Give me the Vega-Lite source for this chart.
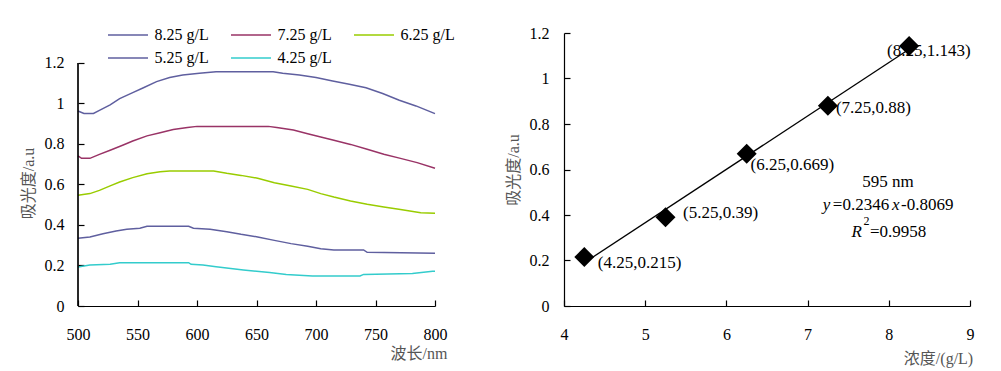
{
  "$schema": "https://vega.github.io/schema/vega-lite/v6.json",
  "padding": {"left": 20, "top": 24, "right": 5, "bottom": 5},
  "background": "white",
  "spacing": 58,
  "config": {
    "view": {"stroke": null},
    "axis": {
      "grid": false,
      "domainColor": "black",
      "domainWidth": 1.2,
      "tickColor": "black",
      "tickWidth": 1.2,
      "tickSize": -6,
      "labelFlush": false,
      "labelColor": "black",
      "labelFont": "Liberation Serif",
      "labelFontSize": 16,
      "titleFont": "Liberation Serif, Noto Sans CJK SC",
      "titleFontSize": 16,
      "titleFontWeight": "normal",
      "titleColor": "#555555"
    },
    "text": {"font": "Liberation Serif", "fontSize": 17, "color": "black"}
  },
  "datasets": {
    "spectra": [
      {"c":"8.25 g/L","wl":500,"a":0.963},{"c":"8.25 g/L","wl":505,"a":0.951},{"c":"8.25 g/L","wl":513,"a":0.951},{"c":"8.25 g/L","wl":518,"a":0.966},{"c":"8.25 g/L","wl":527,"a":0.993},{"c":"8.25 g/L","wl":535,"a":1.024},{"c":"8.25 g/L","wl":546,"a":1.054},{"c":"8.25 g/L","wl":555,"a":1.078},{"c":"8.25 g/L","wl":566,"a":1.108},{"c":"8.25 g/L","wl":577,"a":1.128},{"c":"8.25 g/L","wl":588,"a":1.141},{"c":"8.25 g/L","wl":602,"a":1.149},{"c":"8.25 g/L","wl":616,"a":1.157},{"c":"8.25 g/L","wl":664,"a":1.157},{"c":"8.25 g/L","wl":672,"a":1.149},{"c":"8.25 g/L","wl":686,"a":1.141},{"c":"8.25 g/L","wl":700,"a":1.128},{"c":"8.25 g/L","wl":714,"a":1.111},{"c":"8.25 g/L","wl":728,"a":1.095},{"c":"8.25 g/L","wl":742,"a":1.078},{"c":"8.25 g/L","wl":756,"a":1.049},{"c":"8.25 g/L","wl":770,"a":1.016},{"c":"8.25 g/L","wl":784,"a":0.988},{"c":"8.25 g/L","wl":800,"a":0.950},
      {"c":"7.25 g/L","wl":500,"a":0.741},{"c":"7.25 g/L","wl":503,"a":0.729},{"c":"7.25 g/L","wl":510,"a":0.729},{"c":"7.25 g/L","wl":518,"a":0.749},{"c":"7.25 g/L","wl":527,"a":0.769},{"c":"7.25 g/L","wl":538,"a":0.795},{"c":"7.25 g/L","wl":546,"a":0.815},{"c":"7.25 g/L","wl":558,"a":0.840},{"c":"7.25 g/L","wl":569,"a":0.856},{"c":"7.25 g/L","wl":580,"a":0.872},{"c":"7.25 g/L","wl":592,"a":0.881},{"c":"7.25 g/L","wl":600,"a":0.887},{"c":"7.25 g/L","wl":660,"a":0.887},{"c":"7.25 g/L","wl":667,"a":0.881},{"c":"7.25 g/L","wl":681,"a":0.869},{"c":"7.25 g/L","wl":693,"a":0.851},{"c":"7.25 g/L","wl":704,"a":0.835},{"c":"7.25 g/L","wl":715,"a":0.818},{"c":"7.25 g/L","wl":729,"a":0.798},{"c":"7.25 g/L","wl":743,"a":0.774},{"c":"7.25 g/L","wl":757,"a":0.749},{"c":"7.25 g/L","wl":771,"a":0.729},{"c":"7.25 g/L","wl":785,"a":0.708},{"c":"7.25 g/L","wl":800,"a":0.680},
      {"c":"6.25 g/L","wl":500,"a":0.547},{"c":"6.25 g/L","wl":510,"a":0.555},{"c":"6.25 g/L","wl":518,"a":0.571},{"c":"6.25 g/L","wl":527,"a":0.593},{"c":"6.25 g/L","wl":535,"a":0.612},{"c":"6.25 g/L","wl":546,"a":0.634},{"c":"6.25 g/L","wl":558,"a":0.653},{"c":"6.25 g/L","wl":569,"a":0.663},{"c":"6.25 g/L","wl":577,"a":0.667},{"c":"6.25 g/L","wl":614,"a":0.667},{"c":"6.25 g/L","wl":625,"a":0.655},{"c":"6.25 g/L","wl":637,"a":0.645},{"c":"6.25 g/L","wl":651,"a":0.631},{"c":"6.25 g/L","wl":665,"a":0.609},{"c":"6.25 g/L","wl":679,"a":0.593},{"c":"6.25 g/L","wl":693,"a":0.576},{"c":"6.25 g/L","wl":704,"a":0.555},{"c":"6.25 g/L","wl":715,"a":0.538},{"c":"6.25 g/L","wl":729,"a":0.519},{"c":"6.25 g/L","wl":743,"a":0.502},{"c":"6.25 g/L","wl":757,"a":0.489},{"c":"6.25 g/L","wl":771,"a":0.476},{"c":"6.25 g/L","wl":788,"a":0.461},{"c":"6.25 g/L","wl":800,"a":0.458},
      {"c":"5.25 g/L","wl":500,"a":0.334},{"c":"5.25 g/L","wl":510,"a":0.341},{"c":"5.25 g/L","wl":521,"a":0.357},{"c":"5.25 g/L","wl":532,"a":0.370},{"c":"5.25 g/L","wl":541,"a":0.379},{"c":"5.25 g/L","wl":552,"a":0.384},{"c":"5.25 g/L","wl":558,"a":0.394},{"c":"5.25 g/L","wl":593,"a":0.394},{"c":"5.25 g/L","wl":597,"a":0.384},{"c":"5.25 g/L","wl":611,"a":0.379},{"c":"5.25 g/L","wl":625,"a":0.367},{"c":"5.25 g/L","wl":637,"a":0.354},{"c":"5.25 g/L","wl":651,"a":0.341},{"c":"5.25 g/L","wl":665,"a":0.324},{"c":"5.25 g/L","wl":679,"a":0.308},{"c":"5.25 g/L","wl":693,"a":0.295},{"c":"5.25 g/L","wl":704,"a":0.283},{"c":"5.25 g/L","wl":715,"a":0.277},{"c":"5.25 g/L","wl":740,"a":0.277},{"c":"5.25 g/L","wl":743,"a":0.265},{"c":"5.25 g/L","wl":800,"a":0.260},
      {"c":"4.25 g/L","wl":500,"a":0.193},{"c":"4.25 g/L","wl":510,"a":0.202},{"c":"4.25 g/L","wl":527,"a":0.206},{"c":"4.25 g/L","wl":535,"a":0.214},{"c":"4.25 g/L","wl":593,"a":0.214},{"c":"4.25 g/L","wl":595,"a":0.206},{"c":"4.25 g/L","wl":605,"a":0.202},{"c":"4.25 g/L","wl":616,"a":0.194},{"c":"4.25 g/L","wl":639,"a":0.178},{"c":"4.25 g/L","wl":661,"a":0.165},{"c":"4.25 g/L","wl":675,"a":0.156},{"c":"4.25 g/L","wl":697,"a":0.148},{"c":"4.25 g/L","wl":737,"a":0.148},{"c":"4.25 g/L","wl":740,"a":0.156},{"c":"4.25 g/L","wl":781,"a":0.160},{"c":"4.25 g/L","wl":798,"a":0.171},{"c":"4.25 g/L","wl":800,"a":0.171}
    ],
    "pts": [
      {"conc":4.25,"abs":0.215,"label":"(4.25,0.215)"},
      {"conc":5.25,"abs":0.39,"label":"(5.25,0.39)"},
      {"conc":6.25,"abs":0.669,"label":"(6.25,0.669)"},
      {"conc":7.25,"abs":0.88,"label":"(7.25,0.88)"},
      {"conc":8.25,"abs":1.143,"label":"(8.25,1.143)"}
    ],
    "fit": [
      {"conc":4.25,"abs":0.1902},
      {"conc":8.25,"abs":1.1286}
    ],
    "notes": [
      {"t":"595 nm"},{"t":"y"},{"t":"=0.2346"},{"t":"x"},{"t":"-0.8069"},{"t":"R"},{"t":"2"},{"t":"=0.9958"}
    ]
  },
  "hconcat": [
    {
      "width": 357,
      "height": 273,
      "layer": [
        {
          "data": {"name": "spectra"},
          "mark": {"type": "line", "strokeWidth": 1.5},
          "encoding": {
            "x": {"field": "wl", "type": "quantitative",
                  "scale": {"domain": [500, 800], "nice": false},
                  "axis": {"values": [500,550,600,650,700,750,800], "labelPadding": 26, "title": "波长/nm",
                           "titleX": 369, "titleY": 47, "titleAlign": "right", "titleBaseline": "middle", "titleAnchor": null}},
            "y": {"field": "a", "type": "quantitative",
                  "scale": {"domain": [0, 1.3481], "nice": false, "zero": false},
                  "axis": {"values": [0,0.2,0.4,0.6,0.8,1,1.2], "format": "~g", "labelPadding": 20, "domain": false, "title": "吸光度/a.u",
                           "titleX": -50, "titleY": 150, "titleAlign": "center", "titleBaseline": "middle", "titleAngle": -90}},
            "color": {"field": "c", "type": "nominal",
                      "scale": {"domain": ["8.25 g/L","7.25 g/L","6.25 g/L","5.25 g/L","4.25 g/L"],
                                "range": ["#5f5f9f","#993366","#99cc00","#5f5f9f","#33cccc"]},
                      "legend": {"orient": "none", "legendX": 19, "legendY": -9, "columns": 3, "direction": "horizontal", "title": null,
                                 "symbolType": "M0,0H4", "symbolSize": 400, "symbolStrokeWidth": 1.5,
                                 "labelFont": "Liberation Serif", "labelFontSize": 16, "labelColor": "black",
                                 "labelOffset": 35.5, "columnPadding": 11, "rowPadding": 4, "padding": 0}}
          }
        },
        {
          "data": {"name": "fit"},
          "mark": {"type": "rule", "color": "black", "strokeWidth": 1.2},
          "encoding": {"x": {"datum": 500}, "y": {"datum": 0}, "y2": {"datum": 1.2}}
        }
      ]
    },
    {
      "width": 406,
      "height": 273,
      "layer": [
        {"data": {"name": "fit"}, "mark": {"type": "line", "color": "black", "strokeWidth": 1.3},
         "encoding": {
           "x": {"field": "conc", "type": "quantitative",
                 "scale": {"domain": [4, 9], "nice": false},
                 "axis": {"values": [4,5,6,7,8,9], "format": "~g", "labelPadding": 26, "title": "浓度/(g/L)",
                          "titleX": 408.7, "titleY": 52, "titleAlign": "right", "titleBaseline": "middle", "titleAnchor": null}},
           "y": {"field": "abs", "type": "quantitative",
                 "scale": {"domain": [0, 1.2], "nice": false},
                 "axis": {"values": [0,0.2,0.4,0.6,0.8,1,1.2], "format": "~g", "labelPadding": 21, "title": "吸光度/a.u",
                          "titleX": -51, "titleY": 136.5, "titleAlign": "center", "titleBaseline": "middle", "titleAngle": -90}}
         }},
        {"data": {"name": "pts"}, "transform": [{"filter": "datum.conc == 4.25"}],
         "mark": {"type": "text", "align": "left", "baseline": "middle", "dx": 13.5, "dy": 5.6},
         "encoding": {"x": {"field": "conc", "type": "quantitative", "title": "浓度/(g/L)"}, "y": {"field": "abs", "type": "quantitative", "title": "吸光度/a.u"}, "text": {"field": "label"}}},
        {"data": {"name": "pts"}, "transform": [{"filter": "datum.conc == 5.25"}],
         "mark": {"type": "text", "align": "left", "baseline": "middle", "dx": 17.6, "dy": -4},
         "encoding": {"x": {"field": "conc", "type": "quantitative", "title": "浓度/(g/L)"}, "y": {"field": "abs", "type": "quantitative", "title": "吸光度/a.u"}, "text": {"field": "label"}}},
        {"data": {"name": "pts"}, "transform": [{"filter": "datum.conc == 6.25"}],
         "mark": {"type": "text", "align": "left", "baseline": "middle", "dx": 3.8, "dy": 11.2},
         "encoding": {"x": {"field": "conc", "type": "quantitative", "title": "浓度/(g/L)"}, "y": {"field": "abs", "type": "quantitative", "title": "吸光度/a.u"}, "text": {"field": "label"}}},
        {"data": {"name": "pts"}, "transform": [{"filter": "datum.conc == 7.25"}],
         "mark": {"type": "text", "align": "left", "baseline": "middle", "dx": 8, "dy": 2.5},
         "encoding": {"x": {"field": "conc", "type": "quantitative", "title": "浓度/(g/L)"}, "y": {"field": "abs", "type": "quantitative", "title": "吸光度/a.u"}, "text": {"field": "label"}}},
        {"data": {"name": "pts"}, "transform": [{"filter": "datum.conc == 8.25"}],
         "mark": {"type": "text", "align": "left", "baseline": "middle", "dx": -22, "dy": 4.7},
         "encoding": {"x": {"field": "conc", "type": "quantitative", "title": "浓度/(g/L)"}, "y": {"field": "abs", "type": "quantitative", "title": "吸光度/a.u"}, "text": {"field": "label"}}},
        {"data": {"name": "pts"}, "mark": {"type": "point", "shape": "diamond", "filled": true, "color": "black", "size": 400, "opacity": 1},
         "encoding": {"x": {"field": "conc", "type": "quantitative", "title": "浓度/(g/L)"}, "y": {"field": "abs", "type": "quantitative", "title": "吸光度/a.u"}}},
        {"data": {"name": "notes"}, "transform": [{"filter": "datum.t == '595 nm'"}],
         "mark": {"type": "text", "align": "center", "baseline": "middle"},
         "encoding": {"x": {"datum": 7.989, "type": "quantitative"}, "y": {"datum": 0.5464, "type": "quantitative"}, "text": {"field": "t"}}},
        {"data": {"name": "notes"}, "transform": [{"filter": "datum.t == 'y'"}],
         "mark": {"type": "text", "align": "left", "baseline": "middle", "fontStyle": "italic"},
         "encoding": {"x": {"datum": 7.188, "type": "quantitative"}, "y": {"datum": 0.444, "type": "quantitative"}, "text": {"field": "t"}}},
        {"data": {"name": "notes"}, "transform": [{"filter": "datum.t == '=0.2346'"}],
         "mark": {"type": "text", "align": "left", "baseline": "middle"},
         "encoding": {"x": {"datum": 7.311, "type": "quantitative"}, "y": {"datum": 0.444, "type": "quantitative"}, "text": {"field": "t"}}},
        {"data": {"name": "notes"}, "transform": [{"filter": "datum.t == 'x'"}],
         "mark": {"type": "text", "align": "left", "baseline": "middle", "fontStyle": "italic"},
         "encoding": {"x": {"datum": 8.039, "type": "quantitative"}, "y": {"datum": 0.444, "type": "quantitative"}, "text": {"field": "t"}}},
        {"data": {"name": "notes"}, "transform": [{"filter": "datum.t == '-0.8069'"}],
         "mark": {"type": "text", "align": "left", "baseline": "middle"},
         "encoding": {"x": {"datum": 8.15, "type": "quantitative"}, "y": {"datum": 0.444, "type": "quantitative"}, "text": {"field": "t"}}},
        {"data": {"name": "notes"}, "transform": [{"filter": "datum.t == 'R'"}],
         "mark": {"type": "text", "align": "left", "baseline": "middle", "fontStyle": "italic"},
         "encoding": {"x": {"datum": 7.542, "type": "quantitative"}, "y": {"datum": 0.3266, "type": "quantitative"}, "text": {"field": "t"}}},
        {"data": {"name": "notes"}, "transform": [{"filter": "datum.t == '2'"}],
         "mark": {"type": "text", "align": "left", "baseline": "middle", "fontSize": 12},
         "encoding": {"x": {"datum": 7.687, "type": "quantitative"}, "y": {"datum": 0.372, "type": "quantitative"}, "text": {"field": "t"}}},
        {"data": {"name": "notes"}, "transform": [{"filter": "datum.t == '=0.9958'"}],
         "mark": {"type": "text", "align": "left", "baseline": "middle"},
         "encoding": {"x": {"datum": 7.768, "type": "quantitative"}, "y": {"datum": 0.3266, "type": "quantitative"}, "text": {"field": "t"}}}
      ]
    }
  ]
}
